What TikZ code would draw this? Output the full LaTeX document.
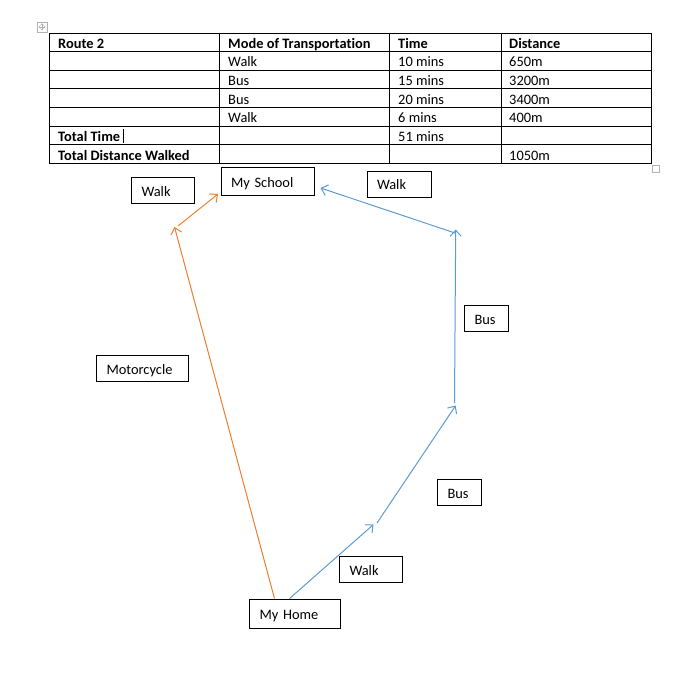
\documentclass[tikz,border=0pt]{standalone}
\usepackage{fontspec}
\setmainfont[Ligatures=NoCommon]{Carlito}
\usetikzlibrary{arrows.meta}

\definecolor{routeorange}{RGB}{237,125,49}
\definecolor{routeblue}{RGB}{91,155,213}

\begin{document}
\begin{tikzpicture}[x=1pt, y=-1pt]
      \useasboundingbox (0,0) rectangle (700,692);
      \tikzstyle{every node}=[font=\fontsize{14.4}{17}\selectfont]
      \tikzstyle{cell}=[anchor=west, inner sep=0pt]
      \tikzstyle{place}=[draw, rectangle, line width=1pt, minimum height=26pt, inner xsep=10pt, align=left, text height=12.5pt, text depth=1.5pt]
      \tikzstyle{route}=[line width=1pt, -{Straight Barb[length=6pt, width=11pt]}]

      \draw[gray!60] (37,22) rectangle (47,32);
      \draw[gray!60, {Straight Barb[length=1.5pt, width=3pt]}-{Straight Barb[length=1.5pt, width=3pt]}]
        (38.5,27) -- (45.5,27);
      \draw[gray!60, {Straight Barb[length=1.5pt, width=3pt]}-{Straight Barb[length=1.5pt, width=3pt]}]
        (42,23.5) -- (42,30.5);
      \draw[gray!60] (652,165) rectangle (659,172);

      \draw[line width=0.9pt] (49.2,33) rectangle (651,163.5);
      \foreach \i in {1, ..., 6}
      {
        \draw[line width=0.9pt] (49.2, 33+\i*18.64) -- (651, 33+\i*18.64);
      }
      \foreach \x in {219.2, 389.6, 501}
      {
        \draw[line width=0.9pt] (\x, 33) -- (\x, 163.5);
      }

      \foreach \i/\a/\b/\c/\d in {
        0/\textbf{Route 2}/\textbf{Mode of Transportation}/\textbf{Time}/\textbf{Distance},
        1//Walk/10 mins/650m,
        2//Bus/15 mins/3200m,
        3//Bus/20 mins/3400m,
        4//Walk/6 mins/400m,
        5/\textbf{Total Time}//51 mins/,
        6/\textbf{Total Distance Walked}///1050m}
      {
        \path (58, 44.8+\i*18.64) node[cell] (r\i a) {\strut\a};
        \path (228, 44.8+\i*18.64) node[cell] (r\i b) {\strut\b};
        \path (398, 44.8+\i*18.64) node[cell] (r\i c) {\strut\c};
        \path (509, 44.8+\i*18.64) node[cell] (r\i d) {\strut\d};
      }
      \draw[line width=0.8pt] (123.5,129) -- (123.5,143);

      \path (163,191) node[place, text width=43pt] (walk1) {Walk};
      \path (267.5,182) node[place, text width=73pt, minimum height=28pt] (school) {My School};
      \path (399,184.5) node[place, text width=44pt] (walk4) {Walk};
      \path (486.5,318.5) node[place, text width=24pt] (bus2) {Bus};
      \path (142.5,368.5) node[place, text width=72pt] (moto) {Motorcycle};
      \path (459.5,492.5) node[place, text width=24pt] (bus1) {Bus};
      \path (371,569.5) node[place, text width=43pt] (walk2) {Walk};
      \path (295,613.8) node[place, text width=71pt, minimum height=29.5pt] (home) {My Home};

      \coordinate (o1) at (174.5,227);
      \coordinate (o2) at (178,226);
      \coordinate (b1) at (373.5,524.5);
      \coordinate (b2) at (377,523);
      \coordinate (b3) at (455.7,405.5);
      \coordinate (b4) at (454.5,403);
      \coordinate (b5) at (455.7,229.5);
      \coordinate (b6) at (455,233);

      \draw[route, routeorange]
        ([xshift=25.5pt]home.north west) -- (o1);
      \draw[route, routeorange]
        (o2) -- ([shift={(-2.5,-2.5)}]school.south west);
      \draw[route, routeblue] ([xshift=40.5pt]home.north west) -- (b1);
      \draw[route, routeblue] (b2) -- (b3);
      \draw[route, routeblue] (b4) -- (b5);
      \draw[route, routeblue] (b6) -- ([shift={(6,6)}]school.east);
    \end{tikzpicture}
\end{document}
